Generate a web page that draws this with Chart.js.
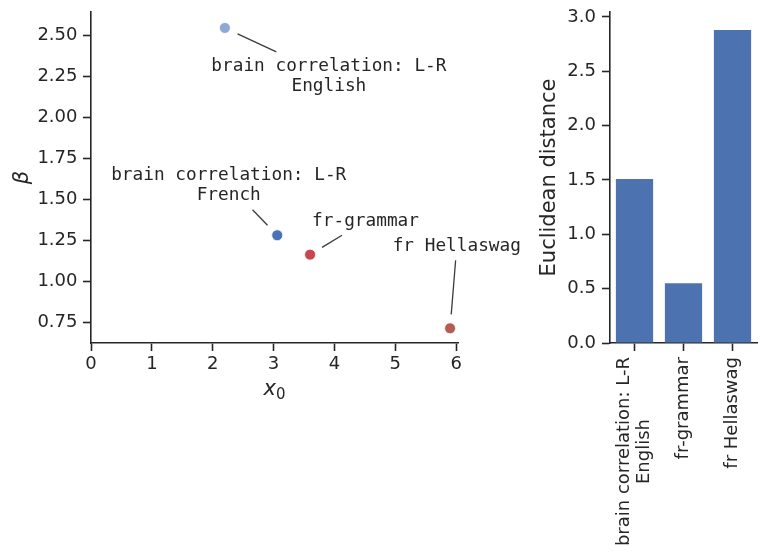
<!DOCTYPE html>
<html>
<head>
<meta charset="utf-8">
<script src="https://cdn.jsdelivr.net/npm/chart.js@4.4.1/dist/chart.umd.min.js"></script>
<style>
  body { margin: 0; background: #fff; }
  #wrap { position: relative; width: 767px; height: 556px; }
  #scatter-box { position: absolute; left: 0; top: 0; }
  #bar-box { position: absolute; left: 530px; top: 0; }
</style>
</head>
<body>
<div id="wrap">
  <div id="scatter-box"><canvas id="scatter-chart" width="530" height="556"></canvas></div>
  <div id="bar-box"><canvas id="bar-chart" width="237" height="556"></canvas></div>
</div>
<script>
'use strict';

// *********** DATA ****************

let pointLabels = [
  ['brain correlation: L-R', 'English'],
  ['brain correlation: L-R', 'French'],
  ['fr-grammar'],
  ['fr Hellaswag']
];
let x0Values = [2.20, 3.06, 3.60, 5.90];
let betaValues = [2.543, 1.282, 1.164, 0.716];
let pointColors = ['#8ea8d6', '#4a72b6', '#c8474d', '#b35d56'];
let xTicks = [0, 1, 2, 3, 4, 5, 6];
let betaTicks = [0.75, 1.00, 1.25, 1.50, 1.75, 2.00, 2.25, 2.50];

let barLabels = [
  ['brain correlation: L-R', 'English'],
  ['fr-grammar'],
  ['fr Hellaswag']
];
let distanceValues = [1.51, 0.55, 2.88];
let distanceTicks = [0, 0.5, 1.0, 1.5, 2.0, 2.5, 3.0];

// label text offsets from each point, in pixels (like offset points)
let labelOffsets = [[104, 48.5], [-48.5, -50], [55.4, -33.6], [6.7, -82.3]];

// ********** STYLE ****************

const INK = '#262626';
const FONT = '"DejaVu Sans", sans-serif';
const MONO = '"DejaVu Sans Mono", monospace';
const SIZE = 18;
const MONO_SIZE = 17.75;
const TITLE_SIZE = 21;

function axisLook() {
  return {
    border: { display: true, color: INK, width: 1.6 },
    grid: {
      display: true, drawOnChartArea: false, drawTicks: true,
      tickLength: 8, tickColor: INK, tickWidth: 1.6
    }
  };
}

// fix the box size and drop the label overhang padding chart.js adds
function fitBox(w, h) {
  return s => {
    if (w) s.width = w;
    if (h) s.height = h;
    s.paddingTop = 0;
    s.paddingBottom = 0;
    s.paddingLeft = 0;
    s.paddingRight = 0;
  };
}

// ********** PLUGINS ****************

// text labels with a connector line, matplotlib annotate style
const annotatePlugin = {
  id: 'annotate',
  afterDatasetsDraw(chart) {
    let ctx = chart.ctx;
    let xs = chart.scales.x;
    let ys = chart.scales.y;
    let lineH = 20.5;
    ctx.save();
    ctx.font = MONO_SIZE + 'px ' + MONO;
    ctx.textAlign = 'center';
    ctx.textBaseline = 'middle';
    for (let i = 0; i < pointLabels.length; i++) {
      let px = xs.getPixelForValue(x0Values[i]);
      let py = ys.getPixelForValue(betaValues[i]);
      let cx = px + labelOffsets[i][0];
      let cy = py + labelOffsets[i][1];
      let lines = pointLabels[i];
      let widest = 0;
      lines.forEach(l => { widest = Math.max(widest, ctx.measureText(l).width); });
      ctx.fillStyle = INK;
      lines.forEach((l, j) => {
        ctx.fillText(l, cx, cy + (j - (lines.length - 1) / 2) * lineH);
      });

      // connector from text box edge to the point, shrunk near the point
      let dx = px - cx;
      let dy = py - cy;
      let hw = widest / 2 + 4;
      let hh = lines.length * lineH / 2 + 4;
      let t = Math.min(dx !== 0 ? hw / Math.abs(dx) : Infinity, dy !== 0 ? hh / Math.abs(dy) : Infinity);
      let len = Math.hypot(dx, dy);
      let sx = cx + dx * t;
      let sy = cy + dy * t;
      let ex = px - dx / len * 14;
      let ey = py - dy / len * 14;
      ctx.strokeStyle = '#3c3c3c';
      ctx.lineWidth = 1.3;
      ctx.beginPath();
      ctx.moveTo(sx, sy);
      ctx.lineTo(ex, ey);
      ctx.stroke();
    }

    // x axis title: italic x with an upright subscript 0
    let midX = (chart.chartArea.left + chart.chartArea.right) / 2;
    let base = chart.chartArea.bottom + 52;
    ctx.textAlign = 'left';
    ctx.textBaseline = 'alphabetic';
    ctx.font = 'italic ' + TITLE_SIZE + 'px ' + FONT;
    let xw = ctx.measureText('x').width;
    ctx.font = '15px ' + FONT;
    let zw = ctx.measureText('0').width;
    let start = midX - (xw + zw) / 2;
    ctx.font = 'italic ' + TITLE_SIZE + 'px ' + FONT;
    ctx.fillText('x', start, base);
    ctx.font = '15px ' + FONT;
    ctx.fillText('0', start + xw, base + 4);
    ctx.restore();
  }
};

// rotated multi-line category labels, lines centred on each other
const rotatedLabelsPlugin = {
  id: 'rotatedLabels',
  afterDraw(chart) {
    let ctx = chart.ctx;
    let xs = chart.scales.x;
    let top = chart.chartArea.bottom + 14;
    ctx.save();
    ctx.font = SIZE + 'px ' + FONT;
    ctx.fillStyle = INK;
    ctx.textAlign = 'center';
    ctx.textBaseline = 'middle';
    for (let i = 0; i < barLabels.length; i++) {
      let x = xs.getPixelForTick(i);
      let lines = barLabels[i];
      let widest = 0;
      lines.forEach(l => { widest = Math.max(widest, ctx.measureText(l).width); });
      ctx.save();
      ctx.translate(x, top);
      ctx.rotate(-Math.PI / 2);
      lines.forEach((l, j) => {
        ctx.fillText(l, -widest / 2, (j - (lines.length - 1) / 2) * 20);
      });
      ctx.restore();
    }
    ctx.restore();
  }
};

// ********** SCATTER CHART ****************

let scatterCtx = document.getElementById('scatter-chart').getContext('2d');

new Chart(scatterCtx, {
  type: 'scatter',
  data: {
    datasets: [{
      data: x0Values.map((x, i) => ({ x: x, y: betaValues[i] })),
      pointBackgroundColor: pointColors,
      pointBorderColor: '#ffffff',
      pointBorderWidth: 0.8,
      pointRadius: 5.5
    }]
  },
  options: {
    responsive: false,
    animation: false,
    layout: { padding: { left: 0, top: 12, right: 72, bottom: 0 } },
    plugins: { legend: { display: false }, tooltip: { enabled: false } },
    scales: {
      x: Object.assign(axisLook(), {
        type: 'linear',
        min: 0,
        max: 6.03,
        afterBuildTicks: s => { s.ticks = xTicks.map(v => ({ value: v })); },
        afterFit: fitBox(0, 213),
        ticks: {
          color: INK, font: { family: FONT, size: SIZE }, padding: 3,
          callback: v => String(v)
        }
      }),
      y: Object.assign(axisLook(), {
        type: 'linear',
        min: 0.6265,
        max: 2.640,
        afterBuildTicks: s => { s.ticks = betaTicks.map(v => ({ value: v })); },
        afterFit: fitBox(91, 0),
        ticks: {
          color: INK, font: { family: FONT, size: SIZE }, padding: 5.5,
          callback: v => v.toFixed(2)
        },
        title: {
          display: true, text: '\u03b2', color: INK,
          font: { family: FONT, size: TITLE_SIZE, style: 'italic' },
          padding: { top: 10, bottom: 0 }
        }
      })
    }
  },
  plugins: [annotatePlugin]
});

// ********** BAR CHART ****************

let barCtx = document.getElementById('bar-chart').getContext('2d');

new Chart(barCtx, {
  type: 'bar',
  data: {
    labels: barLabels,
    datasets: [{
      data: distanceValues,
      backgroundColor: '#4c72b0',
      borderWidth: 0,
      categoryPercentage: 1.0,
      barPercentage: 0.76
    }]
  },
  options: {
    responsive: false,
    animation: false,
    layout: { padding: { left: 0, top: 12, right: 10, bottom: 0 } },
    plugins: { legend: { display: false }, tooltip: { enabled: false } },
    scales: {
      x: Object.assign(axisLook(), {
        type: 'category',
        offset: true,
        afterFit: fitBox(0, 213),
        ticks: { display: false }
      }),
      y: Object.assign(axisLook(), {
        type: 'linear',
        min: 0,
        max: 3.046,
        afterBuildTicks: s => { s.ticks = distanceTicks.map(v => ({ value: v })); },
        afterFit: fitBox(80, 0),
        ticks: {
          color: INK, font: { family: FONT, size: SIZE }, padding: 6,
          callback: v => v.toFixed(1)
        },
        title: {
          display: true, text: 'Euclidean distance', color: INK,
          font: { family: FONT, size: TITLE_SIZE },
          padding: { top: 7, bottom: 0 }
        }
      })
    }
  },
  plugins: [rotatedLabelsPlugin]
});

// category tick marks at the bar centres, not between bars
Chart.getChart(barCtx).options.scales.x.grid.offset = false;
Chart.getChart(barCtx).update();
</script>
</body>
</html>
